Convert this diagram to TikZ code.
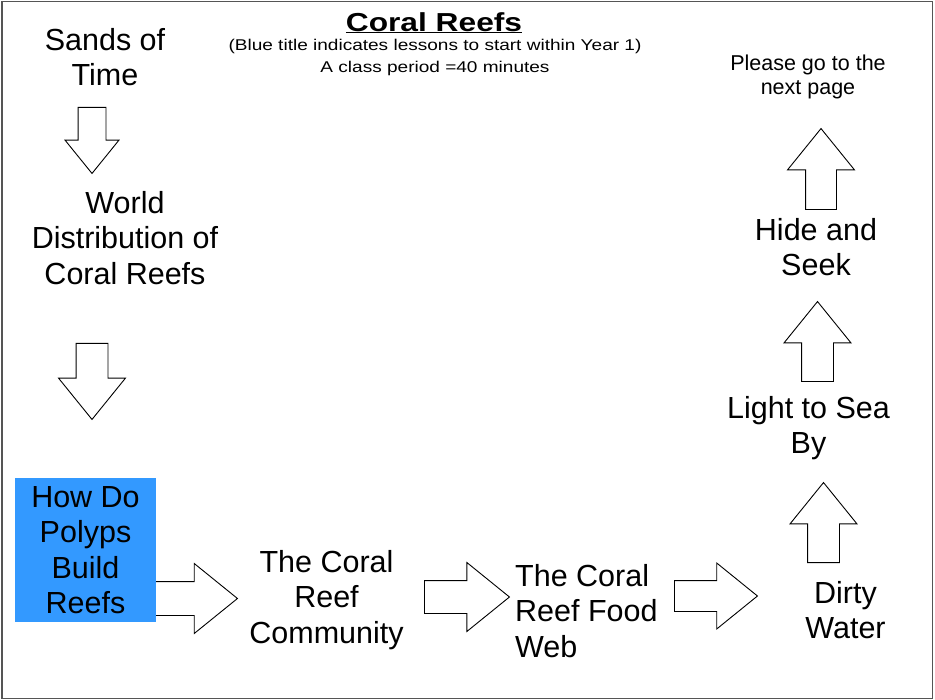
\documentclass[tikz,border=0pt]{standalone}
\usepackage{fontspec}
\setmainfont{Liberation Sans}
\newfontfamily\headfont[FakeStretch=1.22]{Liberation Sans}
\usetikzlibrary{shapes.arrows,positioning}
\definecolor{reefblue}{RGB}{51,153,255}
\definecolor{framegray}{RGB}{85,85,85}

\tikzset{
  lesson/.style={align=center,inner sep=0pt,anchor=north,font=\fontsize{30.5}{35.5}\selectfont},
  blockarrow/.style={single arrow,draw=black,fill=white,line width=0.9pt,
    inner xsep=0pt,single arrow tip angle=78,anchor=tail},
  bigarrow/.style={blockarrow,inner ysep=16pt,single arrow head extend=17.5pt,minimum height=82pt},
  smallarrow/.style={blockarrow,inner ysep=13.5pt,single arrow head extend=13pt,minimum height=66pt}
}

\begin{document}
\begin{tikzpicture}[x=1pt,y=-1pt]
    \useasboundingbox (0,0) rectangle (935,700);
    \draw[framegray,line width=1.5pt] (2,1.5) rectangle (932.5,698.5);

    % Heading
    \node[anchor=north,inner sep=0pt,font=\headfont\fontsize{26}{30}\selectfont\bfseries] (title) at (434,12) {\underline{Coral Reefs}};
    \node[anchor=north,inner sep=0pt,align=center,font=\headfont\fontsize{15.6}{22.5}\selectfont] (note) at (435,39)
        {(Blue title indicates lessons to start within Year 1)\\A class period =40 minutes};

    % Left column
    \node[lesson] (sands) at (105,28) {Sands of\\Time};
    \node[smallarrow,rotate=-90] (down1) at (92,107) {};
    \node[lesson] (world) at (125,191) {World\\Distribution of\\Coral Reefs};
    \node[bigarrow,rotate=-90,inner ysep=15.5pt,minimum height=76pt] (down2) at (92,343) {};

    % Bottom row
    \node[bigarrow,inner ysep=16.5pt,single arrow head extend=18pt,minimum height=87pt] (right1) at (150,598.5) {};
    \node[lesson,fill=reefblue,anchor=center,minimum width=141pt,minimum height=144pt] (polyps) at (85.5,550)
        {How Do\\Polyps\\Build\\Reefs};
    \node[lesson] (community) at (326.5,550) {The Coral\\Reef\\Community};
    \node[bigarrow,single arrow head extend=18pt,minimum height=85pt] (right2) at (424,597) {};
    \node[lesson,align=left,anchor=north west] (foodweb) at (515,564) {The Coral\\Reef Food\\Web};
    \node[bigarrow,inner ysep=15pt,minimum height=83pt] (right3) at (674,596) {};
    \node[lesson] (dirty) at (845.5,581) {Dirty\\Water};

    % Right column
    \node[bigarrow,rotate=90,inner ysep=15.5pt,minimum height=80pt] (up1) at (823.5,563) {};
    \node[lesson] (light) at (808.5,396) {Light to Sea\\By};
    \node[bigarrow,rotate=90,inner ysep=15.5pt,minimum height=80pt] (up2) at (817.5,382) {};
    \node[lesson] (hide) at (816,218) {Hide and\\Seek};
    \node[bigarrow,rotate=90,inner ysep=15pt,single arrow head extend=18pt,minimum height=81pt] (up3) at (821,210) {};
    \node[anchor=north,inner sep=0pt,align=center,font=\fontsize{21.5}{24.5}\selectfont] (nextpage) at (808,54.5)
        {Please go to the\\next page};
\end{tikzpicture}
\end{document}
